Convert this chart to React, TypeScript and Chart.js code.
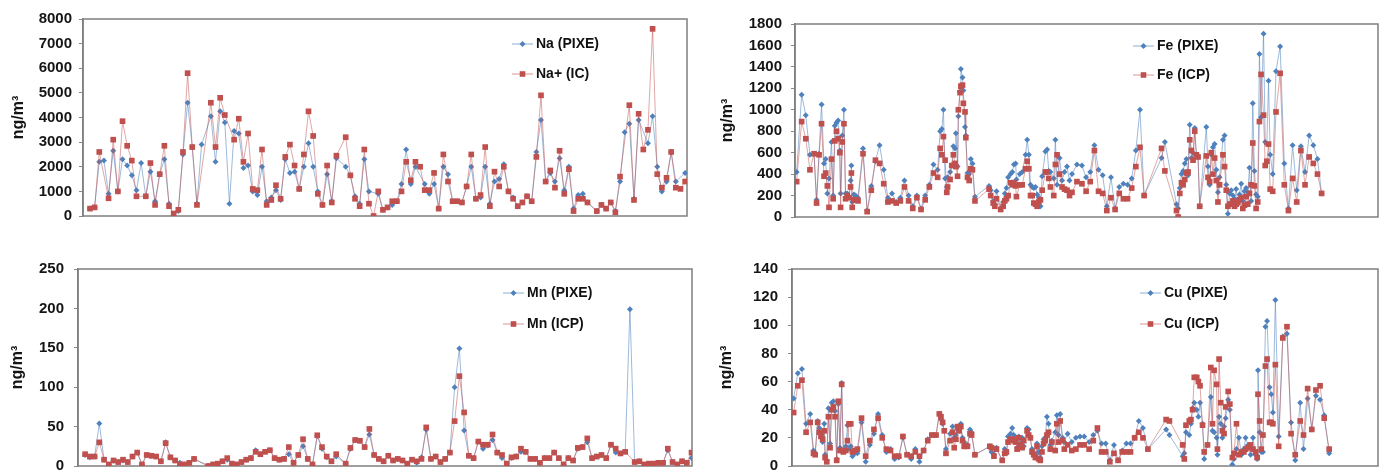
import React, { useEffect, useRef } from "react";
import { Chart, registerables } from "chart.js";

Chart.register(...registerables);

const FONT = "'Liberation Sans', Arial, Helvetica, sans-serif";

// ---------- Na (top-left): equally spaced samples ----------
const naPixe = [
  300, 350, 2200, 2250, 900, 2650, 1000, 2300, 2050, 1650,
  1050, 2150, 800, 1800, 600, 1700, 2300, 500, 0, 200,
  2500, 4600, 2800, 500, 2900, null, 4050, 2200, 4250, 3800,
  500, 3450, 3350, 1950, 2050, 1000, 850, 2000, 600, 750,
  1050, 650, 2300, 1750, 1800, 1100, 2000, 2950, 2000, 1000,
  450, 1700, 600, 2350, null, 2000, 1650, 800, 500, 2300,
  1000, null, 900, 250, 350, 450, 600, 1300, 2700, 1300,
  2000, null, 1300, 900, 1300, 300, 2000, 1700, 600, 600,
  550, 1200, 2000, 700, 750, 2000, 500, 1400, 1500, 2100,
  1000, 750, 400, 550, 800, 600, 2600, 3900, 1400, 1750,
  1400, 2350, 1050, 2000, 300, 850, 900, 550, null, 200,
  450, 300, 550, 200, 1400, 3400, 3750, 700, 3900, null,
  2950, 4050, 2000, 1000, 1400, 2600, 1400, null, 1750,
];
const naIc = [
  300, 350, 2600, null, 720, 3100, 1000, 3850, 2850, 2250,
  800, null, 800, 2150, 450, 1700, 2850, 400, 100, 250,
  2600, 5800, 2800, 450, null, null, 4600, 2800, 4800, 4100,
  null, 3100, 3950, 2200, 3350, 1100, 1050, 2700, 450, 650,
  1250, 700, 2400, 2900, 2050, 1100, 2500, 4250, 3250, 900,
  450, 2050, 550, 2450, null, 3200, 1650, 700, 400, 2700,
  500, 0, 1000, 250, 350, 600, 600, 1000, 2200, 1450,
  2200, 2000, 1050, 1050, 1750, 300, 2500, 1400, 600, 600,
  550, 1200, 2500, 700, 850, 2800, 400, 1800, 1200, 2000,
  1000, 700, 400, 550, 800, 600, 2400, 4900, 1400, 1850,
  1150, 2650, 900, 1900, 200, 700, 700, 550, null, 200,
  450, 300, 550, 150, 1600, null, 4500, 650, 4150, 2700,
  3500, 7600, 1700, 1150, 1550, 2600, 1150, 1100, 1400,
];
const naTicks = [0, 1000, 2000, 3000, 4000, 5000, 6000, 7000, 8000];

// ---------- Mn (bottom-left): equally spaced samples ----------
const mnPixe = [
  14, 11, 12, 54, 8, 2, 7, 5, 7, 5,
  12, 17, 2, 14, 13, 12, 6, 30, 11, 7,
  4, 2, 4, 9, null, null, 0, 2, 3, 6,
  8, 3, 2, 5, 8, 10, 20, 15, 18, 20,
  10, 8, 9, 15, 4, 14, 25, 9, 2, 38,
  22, 11, 6, 12, null, 3, 22, 33, 32, 24,
  40, 14, 9, 6, 13, 7, 9, 7, 3, 8,
  4, 11, 46, 9, 12, 5, 9, 17, 100, 149,
  45, 13, 10, 31, 22, 26, 33, 17, 10, 3,
  10, 12, 18, 18, 9, 9, 4, 10, 10, 17,
  10, 2, 10, 7, 22, 24, 30, 10, 12, 14,
  10, 27, 17, 16, 18, 199, 5, 6, 0, 3,
  3, 4, 4, 20, 5, 2, 6, 4, 10,
];
const mnIcp = [
  15, 12, 12, 30, 8, 2, 7, 5, 8, 5,
  12, 17, 2, 14, 13, 12, 6, 29, 11, 7,
  2, 2, 4, 9, null, null, 0, 2, 3, 6,
  10, 3, 2, 5, 8, 10, 18, 15, 18, 20,
  10, 8, 9, 24, 4, 14, 34, 9, 2, 39,
  24, 12, 6, 15, null, 3, 23, 33, 32, 24,
  47, 14, 9, 6, 13, 7, 9, 7, 3, 8,
  6, 9, 49, 9, 12, 5, 9, 17, 57, 114,
  68, 13, 10, 31, 27, 27, 40, 17, 14, 3,
  11, 12, 22, 18, 9, 9, 4, 10, 10, 17,
  10, 2, 10, 7, 23, 24, 35, 10, 12, 14,
  10, 27, 22, 16, 18, null, 5, 6, 2, 3,
  3, 4, 4, 22, 5, 2, 6, 4, 17,
];
const mnTicks = [0, 50, 100, 150, 200, 250];

// ---------- Fe (top-right): sampling day, PIXE, ICP ----------
const feDay = [
  2, 8, 13, 18, 23, 26, 29, 32, 35, 37, 39, 41, 44, 46, 48, 50, 52, 54, 55, 57,
  59, 61, 63, 65, 67, 68, 69, 71, 73, 76, 82, 87, 92, 97, 102, 107, 112, 117, 122, 127,
  132, 137, 142, 147, 152, 157, 162, 167, 172, 175, 177, 179, 181, 183, 184, 187, 189, 191, 193, 194,
  196, 197, 199, 200, 202, 203, 205, 206, 208, 210, 212, 214, 217, 234, 236, 239, 241, 243, 248, 251,
  253, 255, 257, 260, 262, 264, 266, 267, 271, 274, 278, 280, 282, 284, 286, 288, 290, 292, 294, 296,
  298, 302, 304, 306, 308, 312, 314, 316, 319, 322, 325, 328, 331, 334, 340, 346, 351, 356, 361, 366,
  371, 376, 381, 386, 391, 396, 401, 406, 411, 416, 421, 442, 446, 460, 462, 464, 466, 468, 470, 472,
  474, 476, 478, 480, 482, 484, 486, 488, 496, 498, 500, 502, 504, 506, 508, 510, 512, 516, 518, 520,
  522, 524, 526, 528, 530, 532, 534, 536, 538, 540, 542, 544, 546, 548, 550, 552, 554, 556, 558, 560,
  562, 565, 567, 569, 571, 573, 576, 580, 585, 590, 595, 600, 605, 610, 615, 620, 625, 630, 635,
];
const fePixe = [
  420, 1140, 950, 580, 590, 160, 590, 1050, 500, 540, 220, 360, 700, 200, 850, 880, 900, 620, 220, 760,
  1000, 220, 220, 190, 340, 480, 140, 210, 200, 180, 640, 60, 290, 520, 670, 440, 180, 220, 140, 180,
  340, 200, 100, 200, 80, 200, 300, 490, 440, 800, 820, 1000, 360, 280, 370, 420, 480, 660, 640, 780,
  470, 940, 1170, 1380, 1300, 1180, 840, 760, 410, 400, 540, 500, 190, 290, 250, 150, 120, 240, 80, 140,
  220, 270, 370, 400, 420, 490, 500, 350, 400, 420, 580, 720, 580, 300, 280, 270, 280, 210, 180, 100,
  380, 610, 630, 430, 420, 360, 720, 300, 550, 340, 420, 470, 340, 400, 490, 480, 370, 420, 670, 440,
  390, 100, 370, 80, 280, 310, 300, 360, 620, 1000, 200, 550, 700, 120, 80, 270, 400, 430, 500, 540,
  390, 860, 550, 600, 830, 580, 560, 100, 840, 470, 300, 580, 650, 680, 440, 230, 370, 720, 760, 300,
  30, 220, 250, 200, 170, 260, 120, 210, 310, 150, 240, 270, 230, 460, 150, 1060, 430, 210, 190, 1520,
  930, 1710, 700, 680, 1270, 580, 400, 1360, 1590, 500, 80, 670, 250, 660, 420, 760, 670, 540, 220,
];
const feIcp = [
  330, 890, 730, 440, 590, 130, 580, 870, 380, 410, 290, 90, 540, 170, 710, 800, 730, 600, 90, 700,
  870, 170, 200, 180, 280, 410, 90, 160, 160, 150, 590, 50, 250, 530, 500, 310, 140, 150, 130, 150,
  280, 150, 80, 180, 70, 160, 280, 410, 370, 640, 580, 750, 530, 230, 280, 350, 480, 580, 500, 470,
  380, 1000, 1160, 1220, 1230, 1060, 980, 740, 370, 340, 450, 440, 150, 260, 200, 130, 100, 170, 70, 100,
  150, 170, 200, 320, 300, 320, 290, 190, 300, 300, 450, 520, 450, 200, 200, 130, 120, 100, 140, 160,
  250, 420, 420, 360, 280, 200, 490, 580, 400, 280, 260, 250, 200, 230, 330, 310, 240, 330, 620, 240,
  220, 60, 180, 70, 220, 170, 170, 270, 470, 650, 200, 640, 430, 60, 0, 220, 320, 300, 350, 410,
  420, 720, 620, 530, 800, 580, 560, 100, 570, 370, 330, 600, 400, 550, 340, 140, 300, 580, 470, 250,
  100, 120, 120, 150, 100, 120, 140, 160, 180, 80, 110, 190, 120, 220, 300, 690, 290, 80, 140, 890,
  1330, 950, 480, 520, 680, 260, 240, 980, 1340, 300, 60, 360, 140, 620, 300, 560, 500, 400, 220,
];
const feTicks = [0, 200, 400, 600, 800, 1000, 1200, 1400, 1600, 1800];

// ---------- Cu (bottom-right): sampling day, PIXE, ICP ----------
const cuDay = [
  2, 7, 12, 17, 22, 26, 28, 31, 33, 35, 37, 39, 40, 42, 44, 46, 48, 50, 52, 54,
  56, 58, 60, 62, 65, 67, 69, 71, 73, 76, 79, 84, 89, 94, 99, 104, 109, 114, 119, 124,
  129, 134, 139, 144, 149, 154, 159, 164, 169, 174, 178, 180, 182, 184, 186, 191, 194, 196, 198, 200,
  202, 204, 206, 208, 210, 212, 215, 217, 221, 239, 241, 244, 247, 254, 257, 259, 261, 264, 266, 268,
  270, 272, 274, 276, 278, 280, 284, 286, 288, 290, 292, 294, 296, 298, 300, 302, 304, 306, 308, 310,
  312, 314, 318, 320, 322, 324, 327, 329, 333, 338, 343, 348, 353, 359, 364, 369, 374, 379, 384, 389,
  394, 399, 404, 409, 414, 419, 424, 430, 452, 456, 472, 474, 476, 480, 482, 484, 486, 489, 491, 493,
  496, 498, 502, 506, 508, 510, 513, 514, 516, 518, 520, 522, 524, 527, 529, 532, 534, 537, 540, 543,
  546, 548, 551, 554, 557, 560, 562, 563, 565, 567, 569, 572, 574, 577, 579, 581, 584, 588, 593, 598,
  603, 608, 614, 618, 623, 628, 633, 638, 643, 649,
];
const cuPixe = [
  48, 66, 69, 30, 37, 11, 9, 32, 27, 23, 17, 30, 8, 4, 41, 16, 45, 46, 39, 5,
  44, 13, 59, 11, 14, 29, 12, 14, 7, 9, 9, 31, 3, 15, 23, 37, 22, 10, 12, 5,
  6, 20, 8, 5, 12, 3, 11, 19, 22, 22, 37, 33, 30, 25, 12, 23, 28, 20, 22, 26,
  25, 30, 20, 17, 14, 15, 26, 24, 8, 14, 10, 8, 13, 4, 12, 9, 21, 23, 27, 22,
  20, 13, 21, 16, 20, 14, 27, 26, 20, 12, 9, 8, 16, 10, 6, 14, 19, 20, 35, 30,
  15, 18, 24, 36, 22, 37, 20, 17, 23, 17, 20, 21, 21, 17, 22, 25, 16, 16, 4, 15,
  4, 11, 16, 16, 20, 32, 27, 12, 26, 22, 7, 9, 24, 22, 30, 41, 45, 40, 35, 45,
  30, 5, 15, 49, 25, 24, 20, 8, 35, 30, 20, 28, 34, 47, 40, 1, 5, 12, 20, 8,
  12, 20, 15, 8, 20, 8, 5, 68, 24, 10, 10, 99, 103, 56, 51, 38, 118, 21, 92, 94,
  31, 4, 45, 12, 48, 26, 50, 47, 36, 9,
];
const cuIcp = [
  38, 57, 61, 24, 31, 9, 8, 31, 24, 21, 19, 25, 6, 3, 35, 13, 40, 42, 35, 4,
  46, 11, 58, 10, 11, 18, 30, 30, 10, 11, 12, 34, 7, 18, 26, 34, 20, 12, 11, 7,
  7, 21, 8, 7, 10, 7, 11, 18, 22, 22, 37, 35, 31, 25, 9, 18, 24, 13, 19, 28,
  25, 28, 18, 14, 14, 14, 23, 22, 8, 14, 13, 7, 12, 4, 9, 10, 17, 19, 19, 18,
  17, 12, 20, 15, 13, 18, 25, 22, 20, 10, 8, 6, 14, 5, 4, 10, 16, 18, 22, 24,
  12, 17, 11, 30, 17, 32, 18, 12, 15, 11, 12, 15, 15, 12, 18, 27, 10, 10, 3, 9,
  4, 10, 10, 10, 20, 24, 20, 12, 33, 32, 15, 5, 29, 32, 33, 40, 63, 63, 60, 57,
  29, 10, 15, 70, 30, 68, 58, 12, 76, 45, 25, 23, 42, 53, 44, 6, 9, 30, 8, 10,
  10, 12, 13, 15, 12, 10, 6, 51, 32, 12, 22, 71, 76, 31, 31, 30, 72, 14, 91, 99,
  23, 8, 32, 22, 55, 26, 54, 57, 34, 12,
];
const cuTicks = [0, 20, 40, 60, 80, 100, 120, 140];

const BLUE = "#4F81BD";
const RED = "#C0504D";
const BLUE_LINE = "rgba(79,129,189,0.55)";
const RED_LINE = "rgba(192,80,77,0.5)";

function drawMarker(ctx: CanvasRenderingContext2D, kind: string, x: number, y: number, color: string) {
  ctx.fillStyle = color;
  if (kind === "diamond") {
    const r = 3;
    ctx.beginPath();
    ctx.moveTo(x, y - r);
    ctx.lineTo(x + r, y);
    ctx.lineTo(x, y + r);
    ctx.lineTo(x - r, y);
    ctx.closePath();
    ctx.fill();
  } else {
    const s = 2.8;
    ctx.fillRect(x - s, y - s, 2 * s, 2 * s);
  }
}

const framePlugin = {
  id: "frame",
  beforeDatasetsDraw(chart: any) {
    const { ctx, chartArea: a } = chart;
    ctx.save();
    ctx.strokeStyle = "#7f7f7f";
    ctx.lineWidth = 1.5;
    ctx.strokeRect(a.left, a.top, a.right - a.left, a.bottom - a.top);
    ctx.restore();
  },
};

const legendPlugin = {
  id: "boxLegend",
  afterDraw(chart: any, _args: any, opts: any) {
    const { ctx, chartArea: a } = chart;
    ctx.save();
    chart.data.datasets.forEach((ds: any, i: number) => {
      const x0 = a.left + opts.x;
      const y = a.top + opts.rows[i];
      ctx.strokeStyle = ds.borderColor;
      ctx.lineWidth = 1.2;
      ctx.beginPath();
      ctx.moveTo(x0, y);
      ctx.lineTo(x0 + 21, y);
      ctx.stroke();
      drawMarker(ctx, ds.marker, x0 + 10.5, y, ds.pointBackgroundColor);
      ctx.fillStyle = "#111";
      ctx.font = `bold 14px ${FONT}`;
      ctx.textBaseline = "middle";
      ctx.textAlign = "left";
      ctx.fillText(ds.label, x0 + 24, y + 0.5);
    });
    ctx.restore();
  },
};

type Spec = {
  left: number; top: number; width: number; height: number;
  pad: { top: number; right: number; bottom: number; left: number };
  axisWidth: number; titlePad: number; tickPad: number;
  xs: number[]; pixe: (number | null)[]; other: (number | null)[];
  labels: [string, string];
  ticks: number[]; xMin: number; xMax: number;
  legendX: number; legendRows: number[];
};

function Panel({ s }: { s: Spec }) {
  const ref = useRef<HTMLCanvasElement>(null);
  useEffect(() => {
    const yMax = s.ticks[s.ticks.length - 1];
    const step = s.ticks[1] - s.ticks[0];
    const chart = new Chart(ref.current as HTMLCanvasElement, {
      type: "line",
      data: {
        datasets: [
          {
            label: s.labels[0],
            data: s.xs.map((x, i) => ({ x, y: s.pixe[i] })),
            borderColor: BLUE_LINE,
            borderWidth: 1,
            pointStyle: "rectRot",
            pointRadius: 3,
            pointBackgroundColor: BLUE,
            pointBorderColor: BLUE,
            pointBorderWidth: 0,
            spanGaps: true,
            tension: 0,
            order: 2,
            marker: "diamond",
          } as any,
          {
            label: s.labels[1],
            data: s.xs.map((x, i) => ({ x, y: s.other[i] })),
            borderColor: RED_LINE,
            borderWidth: 1,
            pointStyle: "rect",
            pointRadius: 4,
            pointBackgroundColor: RED,
            pointBorderColor: RED,
            pointBorderWidth: 0,
            spanGaps: true,
            tension: 0,
            order: 1,
            marker: "square",
          } as any,
        ],
      },
      options: {
        responsive: false,
        animation: false,
        layout: { padding: s.pad },
        plugins: {
          legend: { display: false },
          tooltip: { enabled: false },
          boxLegend: { x: s.legendX, rows: s.legendRows },
        } as any,
        scales: {
          x: {
            type: "linear",
            min: s.xMin,
            max: s.xMax,
            display: false,
          },
          y: {
            min: 0,
            max: yMax,
            afterFit: (scale: any) => {
              scale.width = s.axisWidth;
            },
            afterBuildTicks: (scale: any) => {
              scale.ticks = s.ticks.map((v) => ({ value: v }));
            },
            ticks: {
              stepSize: step,
              padding: s.tickPad,
              color: "#151515",
              font: { family: FONT, size: 15, weight: "bold" },
              callback: (v: any) => String(v),
            },
            grid: {
              display: true,
              drawOnChartArea: false,
              drawTicks: true,
              tickLength: 4,
              color: "#8a8a8a",
            },
            border: { display: true, color: "#7f7f7f", width: 1.5 },
            title: {
              display: true,
              text: "ng/m³",
              color: "#151515",
              padding: { top: s.titlePad, bottom: 0 },
              font: { family: FONT, size: 16, weight: "bold" },
            },
          },
        },
      },
      plugins: [framePlugin, legendPlugin],
    } as any);
    return () => chart.destroy();
  }, []);
  return (
    <canvas
      ref={ref}
      width={s.width}
      height={s.height}
      style={{ position: "absolute", left: s.left, top: s.top, width: s.width, height: s.height }}
    />
  );
}

const naIdx = naIc.map((_, i) => i);
const mnIdx = mnIcp.map((_, i) => i);

const specs: Spec[] = [
  {
    left: 0, top: 0, width: 700, height: 235,
    pad: { top: 19, right: 13, bottom: 19, left: 0 },
    axisWidth: 83, titlePad: 9, tickPad: 7,
    xs: naIdx, pixe: naPixe, other: naIc, labels: ["Na (PIXE)", "Na+ (IC)"],
    ticks: naTicks, xMin: -1.5, xMax: 128.4,
    legendX: 429, legendRows: [25, 55],
  },
  {
    left: 700, top: 0, width: 682, height: 235,
    pad: { top: 24, right: 1, bottom: 17, left: 0 },
    axisWidth: 95, titlePad: 18, tickPad: 9,
    xs: feDay, pixe: fePixe, other: feIcp, labels: ["Fe (PIXE)", "Fe (ICP)"],
    ticks: feTicks, xMin: 0, xMax: 703,
    legendX: 338, legendRows: [22, 51],
  },
  {
    left: 0, top: 235, width: 700, height: 250,
    pad: { top: 34, right: 8, bottom: 18, left: 0 },
    axisWidth: 78, titlePad: 7.5, tickPad: 10,
    xs: mnIdx, pixe: mnPixe, other: mnIcp, labels: ["Mn (PIXE)", "Mn (ICP)"],
    ticks: mnTicks, xMin: -1.5, xMax: 128.1,
    legendX: 425, legendRows: [24, 55],
  },
  {
    left: 700, top: 235, width: 682, height: 250,
    pad: { top: 34, right: 1, bottom: 17, left: 0 },
    axisWidth: 92, titlePad: 17, tickPad: 10,
    xs: cuDay, pixe: cuPixe, other: cuIcp, labels: ["Cu (PIXE)", "Cu (ICP)"],
    ticks: cuTicks, xMin: 0, xMax: 708,
    legendX: 348, legendRows: [24, 55],
  },
];

export default function App() {
  return (
    <div
      style={{
        position: "absolute",
        left: 0,
        top: 0,
        width: 1382,
        height: 470,
        overflow: "hidden",
        background: "#ffffff",
      }}
    >
      {specs.map((s, i) => (
        <Panel key={i} s={s} />
      ))}
    </div>
  );
}
